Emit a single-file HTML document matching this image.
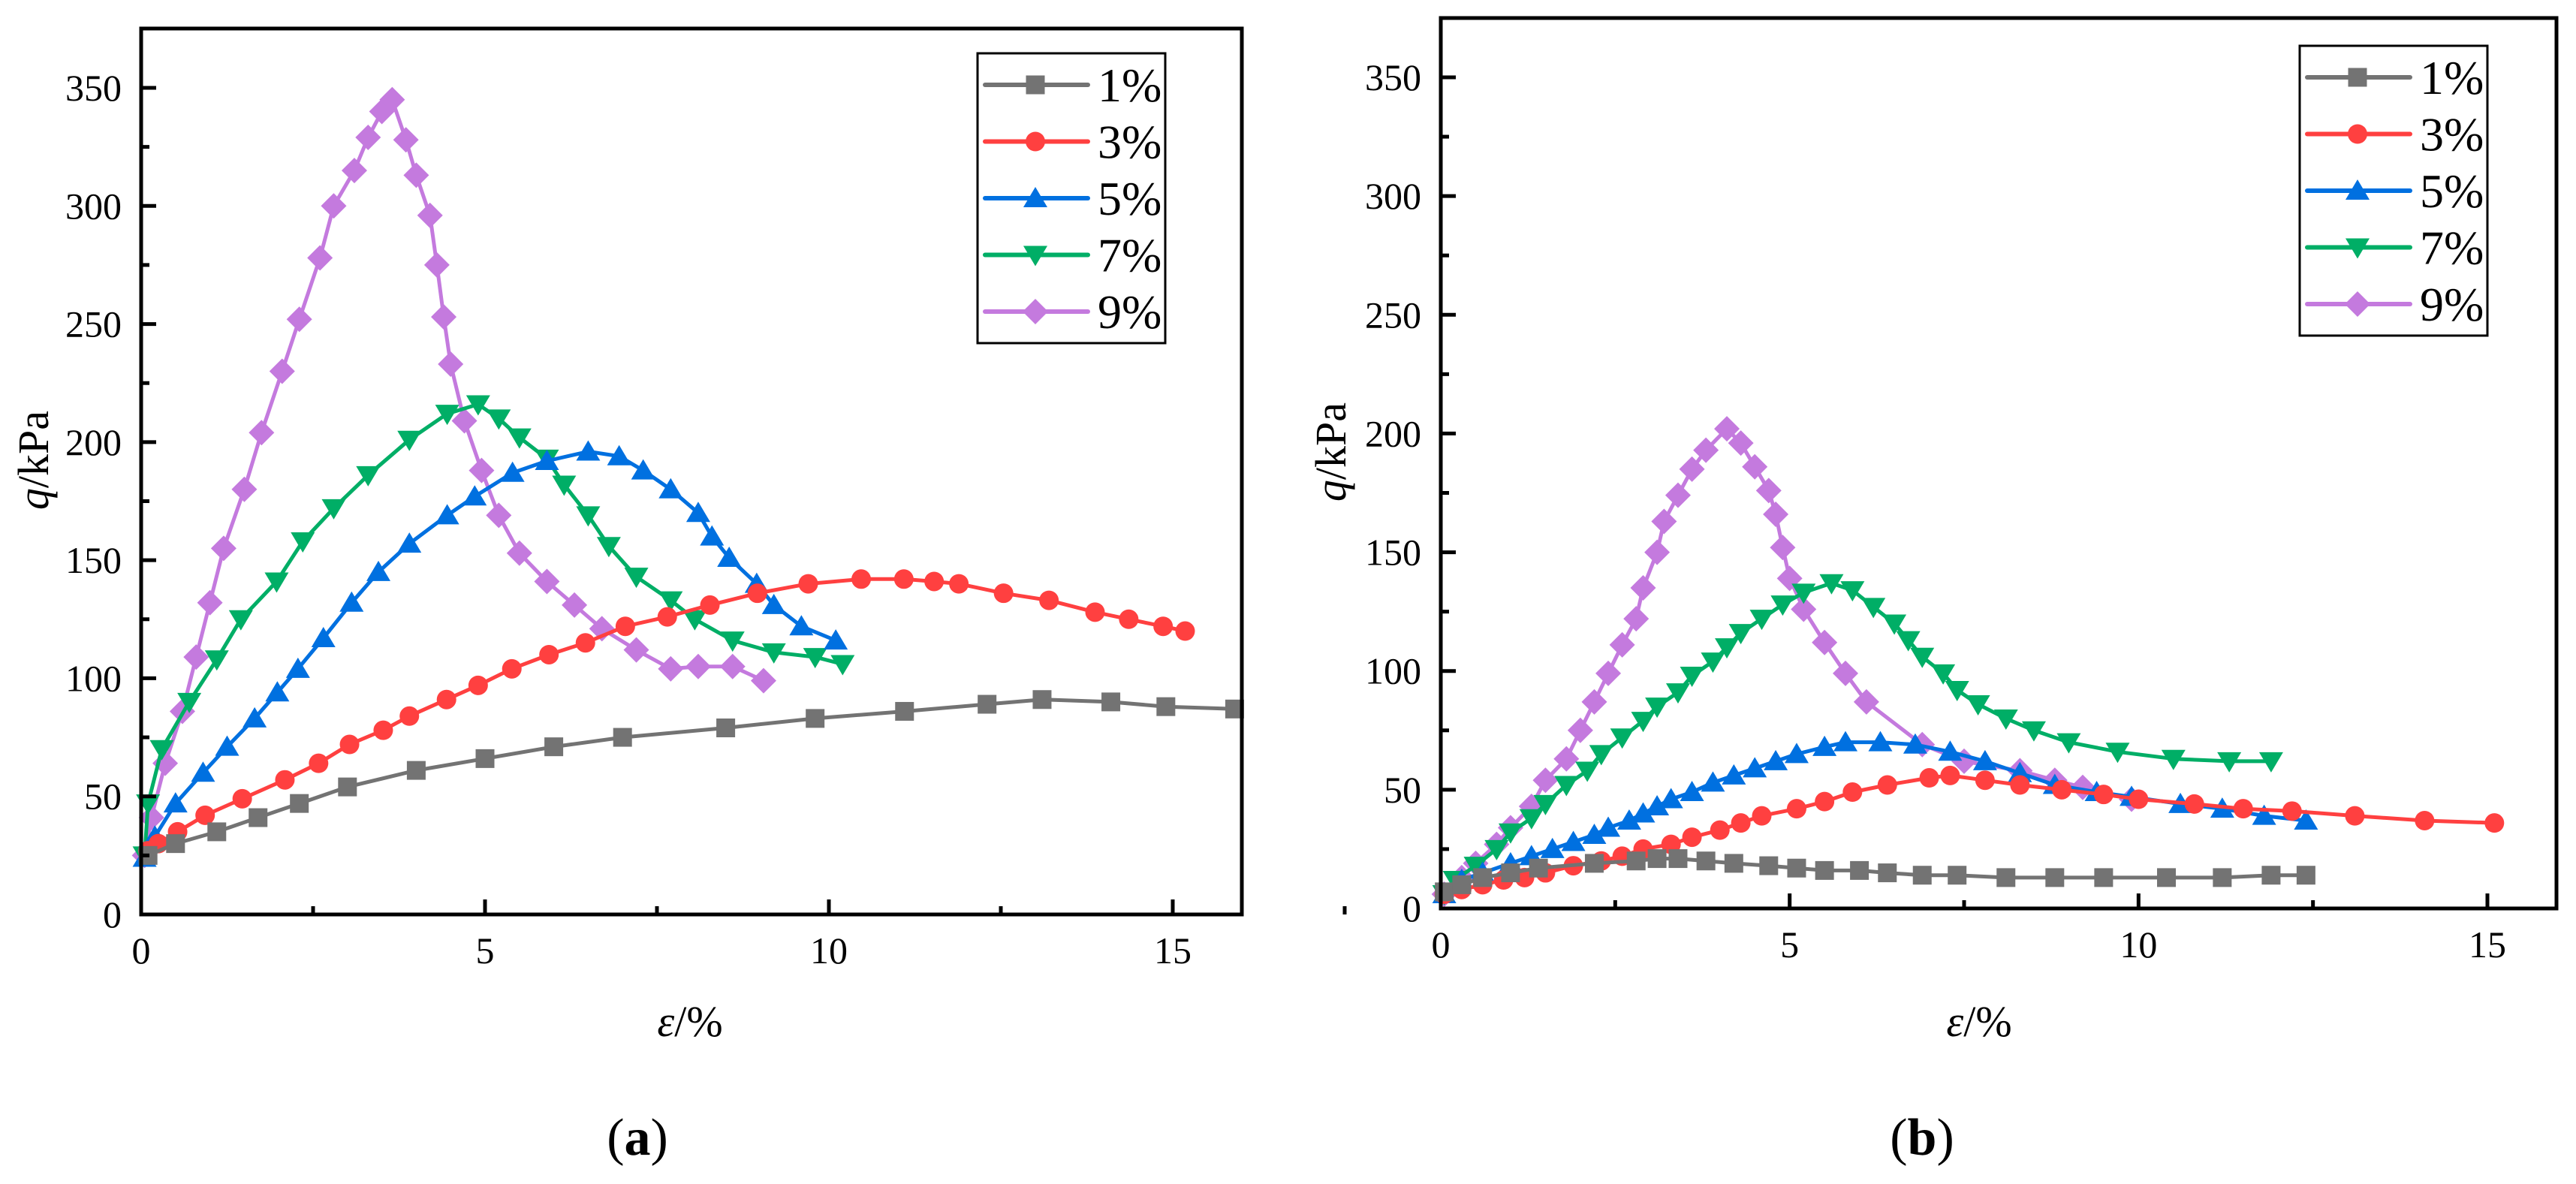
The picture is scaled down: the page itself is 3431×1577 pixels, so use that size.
<!DOCTYPE html>
<html><head><meta charset="utf-8"><style>
html,body{margin:0;padding:0;background:#fff;}
svg{display:block;}
svg text{font-family:"Liberation Serif","Times New Roman",serif;}
</style></head><body>
<svg id="fig" width="3431" height="1577" viewBox="0 0 3431 1577" xmlns="http://www.w3.org/2000/svg" font-family="Liberation Serif, serif"></svg>
<script>
const seriesNames = ["1%","3%","5%","7%","9%"];
const colors = ["#737373","#FF4040","#0070E0","#00AE66","#C47ADE"];
const markers = ["square","circle","up","down","diamond"];
const xTicks = [0,5,10,15];
const yTicks = [0,50,100,150,200,250,300,350];

// Panel (a)
const a1x=[0.1,0.5,1.1,1.7,2.3,3.0,4.0,5.0,6.0,7.0,8.5,9.8,11.1,12.3,13.1,14.1,14.9,15.9];
const a1y=[25,30,35,41,47,54,61,66,71,75,79,83,86,89,91,90,88,87];
const a3x=[0.1,0.25,0.53,0.93,1.47,2.09,2.58,3.03,3.52,3.9,4.44,4.9,5.39,5.93,6.46,7.04,7.65,8.27,8.96,9.7,10.47,11.09,11.53,11.89,12.54,13.2,13.87,14.36,14.86,15.18];
const a3y=[27,30,35,42,49,57,64,72,78,84,91,97,104,110,115,122,126,131,136,140,142,142,141,140,136,133,128,125,122,120];
const a5x=[0.05,0.2,0.5,0.9,1.25,1.65,1.98,2.28,2.65,3.06,3.45,3.9,4.45,4.85,5.4,5.9,6.5,6.95,7.3,7.7,8.1,8.3,8.55,8.95,9.2,9.6,10.1];
const a5y=[24,33,47,60,71,83,94,104,117,132,145,157,169,177,187,192,196,194,188,180,170,160,151,140,131,122,116];
const a7x=[0.05,0.1,0.3,0.7,1.1,1.45,1.97,2.35,2.8,3.3,3.9,4.45,4.9,5.2,5.5,5.9,6.15,6.5,6.8,7.2,7.7,8.05,8.6,9.2,9.8,10.2];
const a7y=[25,47,70,90,108,125,141,158,172,186,201,212,216,210,202,193,182,169,156,143,133,125,116,111,109,106];
const a9x=[0.05,0.15,0.35,0.6,0.8,1.0,1.2,1.5,1.75,2.05,2.3,2.6,2.8,3.1,3.3,3.5,3.65,3.85,4.0,4.2,4.3,4.4,4.5,4.7,4.95,5.2,5.5,5.9,6.3,6.7,7.2,7.7,8.1,8.6,9.05];
const a9y=[25,41,64,86,109,132,155,180,204,230,252,278,300,315,329,340,345,328,313,296,275,253,233,209,188,169,153,141,131,121,112,104,105,105,99];

// Panel (b)
const b1x=[0.05,0.3,0.6,1,1.4,2.2,2.8,3.1,3.4,3.8,4.2,4.7,5.1,5.5,6,6.4,6.9,7.4,8.1,8.8,9.5,10.4,11.2,11.9,12.4];
const b1y=[7,10,13,15,17,19,20,21,21,20,19,18,17,16,16,15,14,14,13,13,13,13,13,14,14];
const b3x=[0.05,0.3,0.6,0.9,1.2,1.5,1.9,2.3,2.6,2.9,3.3,3.6,4.0,4.3,4.6,5.1,5.5,5.9,6.4,7.0,7.3,7.8,8.3,8.9,9.5,10.0,10.8,11.5,12.2,13.1,14.1,15.1];
const b3y=[6,8,10,12,13,15,18,20,22,25,27,30,33,36,39,42,45,49,52,55,56,54,52,50,48,46,44,42,41,39,37,36];
const b5x=[0.05,0.3,0.6,1,1.3,1.6,1.9,2.2,2.4,2.7,2.9,3.1,3.3,3.6,3.9,4.2,4.5,4.8,5.1,5.5,5.8,6.3,6.8,7.3,7.8,8.3,8.8,9.4,9.9,10.6,11.2,11.8,12.4];
const b5y=[6,12,15,19,22,25,28,31,34,37,40,43,46,49,53,56,59,62,65,68,70,70,69,66,62,57,52,49,47,44,42,39,37];
const b7x=[0.05,0.2,0.5,0.8,1.0,1.3,1.5,1.8,2.1,2.3,2.6,2.9,3.1,3.4,3.6,3.9,4.1,4.3,4.6,4.9,5.2,5.6,5.9,6.2,6.5,6.7,6.9,7.2,7.4,7.7,8.1,8.5,9.0,9.7,10.5,11.3,11.9];
const b7y=[6,12,18,25,32,38,44,52,58,65,72,79,85,91,98,104,110,116,122,128,133,137,134,127,120,113,106,99,92,86,80,75,70,66,63,62,62];
const b9x=[0.05,0.3,0.5,0.8,1.0,1.3,1.5,1.8,2.0,2.2,2.4,2.6,2.8,2.9,3.1,3.2,3.4,3.6,3.8,4.1,4.3,4.5,4.7,4.8,4.9,5.0,5.2,5.5,5.8,6.1,6.9,7.5,8.3,8.8,9.2,9.9];
const b9y=[6,13,19,27,34,43,54,63,75,87,99,111,122,135,150,163,174,185,193,202,196,186,176,166,152,139,126,112,99,87,69,62,58,54,51,46];

const NS="http://www.w3.org/2000/svg";
const svg=document.getElementById('fig');
const FONT='"Liberation Serif", serif';
function el(tag,attrs,parent){const e=document.createElementNS(NS,tag);for(const k in attrs)e.setAttribute(k,attrs[k]);if(tag==='text'){e.setAttribute('font-family',FONT);e.style.fontFamily=FONT;}(parent||svg).appendChild(e);return e;}

function marker(g,type,cx,cy,color){
  let m;
  const s=12.5;
  if(type==="square") m=el('rect',{x:cx-s,y:cy-s,width:2*s,height:2*s,fill:color},g);
  else if(type==="circle") m=el('circle',{cx:cx,cy:cy,r:13,fill:color},g);
  else if(type==="up") m=el('polygon',{points:`${cx},${cy-15} ${cx+16},${cy+12} ${cx-16},${cy+12}`,fill:color},g);
  else if(type==="down") m=el('polygon',{points:`${cx},${cy+15} ${cx+16},${cy-12} ${cx-16},${cy-12}`,fill:color},g);
  else m=el('polygon',{points:`${cx},${cy-17} ${cx+17},${cy} ${cx},${cy+17} ${cx-17},${cy}`,fill:color},g);
  return m;
}

function panel(cfg){
  const {L,R,T,B,x15,y350,xs,ys,legX,legY,label,yLabX,xTitleX,capX,name}=cfg;
  const sx=v=>L+(x15-L)*v/15;
  const sy=v=>B-(B-y350)*v/350;
  const g=el('g',{});
  
  
  for(let i=4;i>=0;i--){
    const sg=el('g',{},g);
    
    
    const pts=xs[i].map((x,j)=>sx(x).toFixed(1)+','+sy(ys[i][j]).toFixed(1)).join(' ');
    el('polyline',{points:pts,fill:'none',stroke:colors[i],'stroke-width':5,'stroke-linejoin':'round'},sg);
    xs[i].forEach((x,j)=>{const m=marker(sg,markers[i],sx(x),sy(ys[i][j]),colors[i]);
      
      });
  }
  const fr=el('rect',{x:L,y:T,width:R-L,height:B-T,fill:'none',stroke:'#000','stroke-width':5},g);
  
  
  yTicks.forEach(v=>{
    el('line',{x1:L,y1:sy(v),x2:L+20,y2:sy(v),stroke:'#000','stroke-width':5},g);
    if(v<350) el('line',{x1:L,y1:sy(v+25),x2:L+11,y2:sy(v+25),stroke:'#000','stroke-width':5},g);
    const t=el('text',{x:L-26,y:sy(v)+17,'text-anchor':'end','font-size':50},g);
    t.textContent=v;
    
    
  });
  xTicks.forEach(v=>{
    el('line',{x1:sx(v),y1:B,x2:sx(v),y2:B-20,stroke:'#000','stroke-width':5},g);
    el('line',{x1:sx(v+2.5),y1:B,x2:sx(v+2.5),y2:B-11,stroke:'#000','stroke-width':5},g);
    const t=el('text',{x:sx(v),y:B+65,'text-anchor':'middle','font-size':50},g);
    t.textContent=v;
    
    
  });
  const yc=(T+B)/2-15;
  const yl=el('text',{x:yLabX,y:yc,'text-anchor':'middle','font-size':58,transform:`rotate(-90 ${yLabX} ${yc})`},g);
  yl.innerHTML='<tspan font-style="italic">q</tspan>/kPa';
  
  
  const xl=el('text',{x:xTitleX,y:1380,'text-anchor':'middle','font-size':58},g);
  xl.innerHTML='<tspan font-style="italic">ε</tspan>/%';
  
  
  const cap=el('text',{x:capX,y:1538,'text-anchor':'middle','font-size':70},g);
  cap.innerHTML='(<tspan font-weight="bold">'+label+'</tspan>)';
  
  
  const lg=el('g',{},g);
  
  
  el('rect',{x:legX,y:legY,width:250,height:386,fill:'#fff',stroke:'#000','stroke-width':3},lg);
  seriesNames.forEach((n,i)=>{
    const ey=legY+42+i*75.5;
    const e=el('g',{},lg);
    
    
    el('line',{x1:legX+10,y1:ey,x2:legX+147,y2:ey,stroke:colors[i],'stroke-width':6,'stroke-linecap':'round'},e);
    marker(e,markers[i],legX+77,ey,colors[i]);
    const t=el('text',{x:legX+160,y:ey+22,'font-size':64},e);
    t.textContent=n;
  });
}

panel({name:'panel-a',L:188,R:1654,T:38,B:1218,x15:1562,y350:117,
  xs:[a1x,a3x,a5x,a7x,a9x],ys:[a1y,a3y,a5y,a7y,a9y],legX:1302,legY:71,label:'a',yLabX:64,xTitleX:919,capX:849});
panel({name:'panel-b',L:1919,R:3405,T:24,B:1210,x15:3313,y350:103,
  xs:[b1x,b3x,b5x,b7x,b9x],ys:[b1y,b3y,b5y,b7y,b9y],legX:3063,legY:61,label:'b',yLabX:1792,xTitleX:2636,capX:2560});
</script>
</body></html>
